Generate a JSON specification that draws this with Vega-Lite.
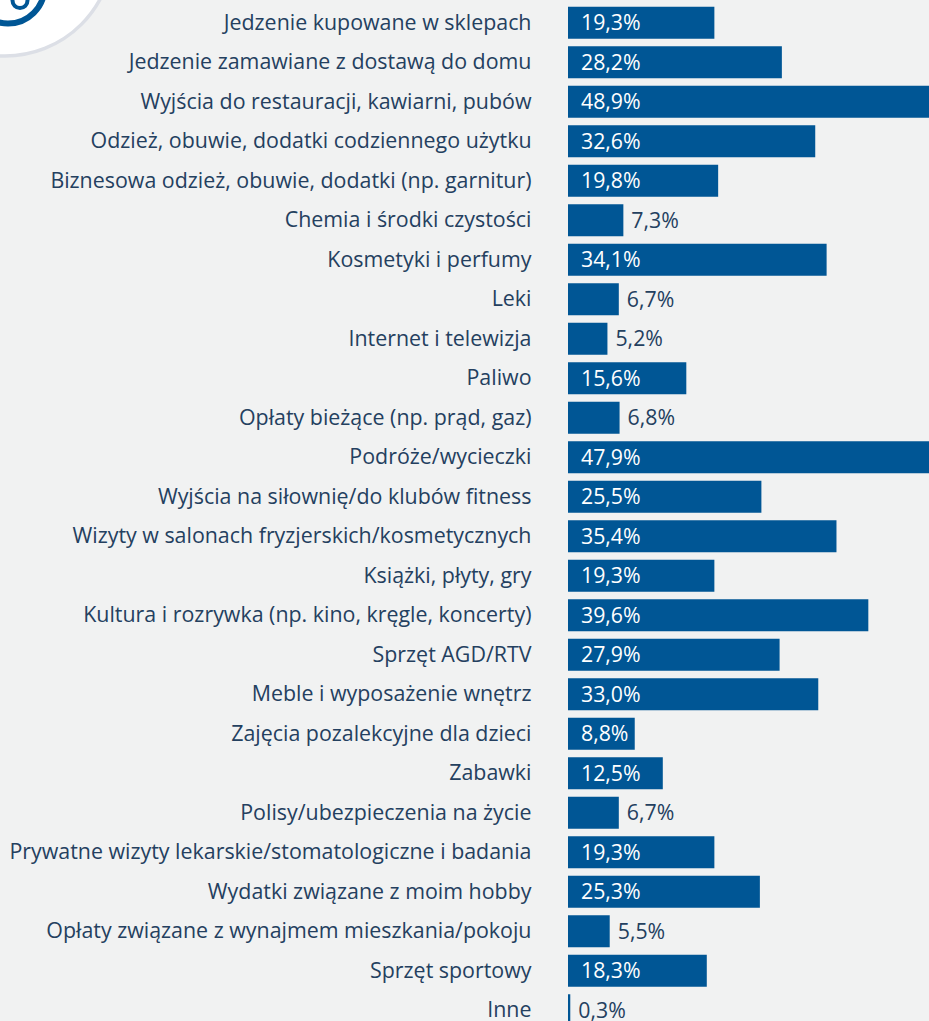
{
"$schema":"https://vega.github.io/schema/vega-lite/v6.json",
"width":361,"height":1018,
"autosize":{"type":"none"},
"padding":{"left":568,"top":3,"right":0,"bottom":0},
"background":"#f1f2f2",
"view":{"stroke":null},
"config":{"font":"Open Sans"},
"datasets":{
"rows":[
{"k":"Jedzenie kupowane w sklepach","v":19.3,"t":"19,3%"},
{"k":"Jedzenie zamawiane z dostawą do domu","v":28.2,"t":"28,2%"},
{"k":"Wyjścia do restauracji, kawiarni, pubów","v":48.9,"t":"48,9%"},
{"k":"Odzież, obuwie, dodatki codziennego użytku","v":32.6,"t":"32,6%"},
{"k":"Biznesowa odzież, obuwie, dodatki (np. garnitur)","v":19.8,"t":"19,8%"},
{"k":"Chemia i środki czystości","v":7.3,"t":"7,3%"},
{"k":"Kosmetyki i perfumy","v":34.1,"t":"34,1%"},
{"k":"Leki","v":6.7,"t":"6,7%"},
{"k":"Internet i telewizja","v":5.2,"t":"5,2%"},
{"k":"Paliwo","v":15.6,"t":"15,6%"},
{"k":"Opłaty bieżące (np. prąd, gaz)","v":6.8,"t":"6,8%"},
{"k":"Podróże/wycieczki","v":47.9,"t":"47,9%"},
{"k":"Wyjścia na siłownię/do klubów fitness","v":25.5,"t":"25,5%"},
{"k":"Wizyty w salonach fryzjerskich/kosmetycznych","v":35.4,"t":"35,4%"},
{"k":"Książki, płyty, gry","v":19.3,"t":"19,3%"},
{"k":"Kultura i rozrywka (np. kino, kręgle, koncerty)","v":39.6,"t":"39,6%"},
{"k":"Sprzęt AGD/RTV","v":27.9,"t":"27,9%"},
{"k":"Meble i wyposażenie wnętrz","v":33.0,"t":"33,0%"},
{"k":"Zajęcia pozalekcyjne dla dzieci","v":8.8,"t":"8,8%"},
{"k":"Zabawki","v":12.5,"t":"12,5%"},
{"k":"Polisy/ubezpieczenia na życie","v":6.7,"t":"6,7%"},
{"k":"Prywatne wizyty lekarskie/stomatologiczne i badania","v":19.3,"t":"19,3%"},
{"k":"Wydatki związane z moim hobby","v":25.3,"t":"25,3%"},
{"k":"Opłaty związane z wynajmem mieszkania/pokoju","v":5.5,"t":"5,5%"},
{"k":"Sprzęt sportowy","v":18.3,"t":"18,3%"},
{"k":"Inne","v":0.3,"t":"0,3%"}
]
},
"layer":[
{"data":{"values":[{"item":"badge"}]},"mark":{"type":"point","shape":"circle","filled":false,"fill":"#ffffff","fillOpacity":1,"opacity":1,"stroke":"#dcdfe6","strokeWidth":3.5,"size":46656,"x":-563,"y":-55},"encoding":{}},
{"data":{"values":[{"item":"icon ring"}]},"mark":{"type":"point","shape":"circle","filled":false,"opacity":1,"stroke":"#005695","strokeWidth":6,"size":5329,"x":-560,"y":-16},"encoding":{}},
{"data":{"values":[{"item":"icon core"}]},"mark":{"type":"point","shape":"circle","filled":false,"opacity":1,"stroke":"#005695","strokeWidth":4,"size":225,"x":-548,"y":-2.5},"encoding":{}},
{"data":{"name":"rows"},"mark":{"type":"bar","color":"#005695","clip":true},
"encoding":{
"y":{"field":"k","type":"nominal","sort":null,"scale":{"range":[0,1027],"paddingInner":0.19,"paddingOuter":0.095},"axis":{"title":null,"domain":false,"ticks":false,"grid":false,"labelPadding":37,"labelOffset":1,"labelFontSize":21.4,"labelFont":"Open Sans","labelColor":"#24405f","labelLimit":600}},
"x":{"field":"v","type":"quantitative","scale":{"domain":[0,47.6],"nice":false,"zero":true},"axis":null}
}},
{"data":{"name":"rows"},"transform":[{"filter":"datum.v>=8"}],"mark":{"type":"text","align":"left","baseline":"middle","dy":1.5,"fontSize":21.3,"font":"Open Sans","color":"#ffffff","x":13},
"encoding":{"y":{"field":"k","type":"nominal","sort":null},"text":{"field":"t","type":"nominal"}}},
{"data":{"name":"rows"},"transform":[{"filter":"datum.v<8"}],"mark":{"type":"text","align":"left","baseline":"middle","dy":1.5,"dx":8,"fontSize":21.3,"font":"Open Sans","color":"#24405f"},
"encoding":{"y":{"field":"k","type":"nominal","sort":null},"x":{"field":"v","type":"quantitative"},"text":{"field":"t","type":"nominal"}}}
]
}
